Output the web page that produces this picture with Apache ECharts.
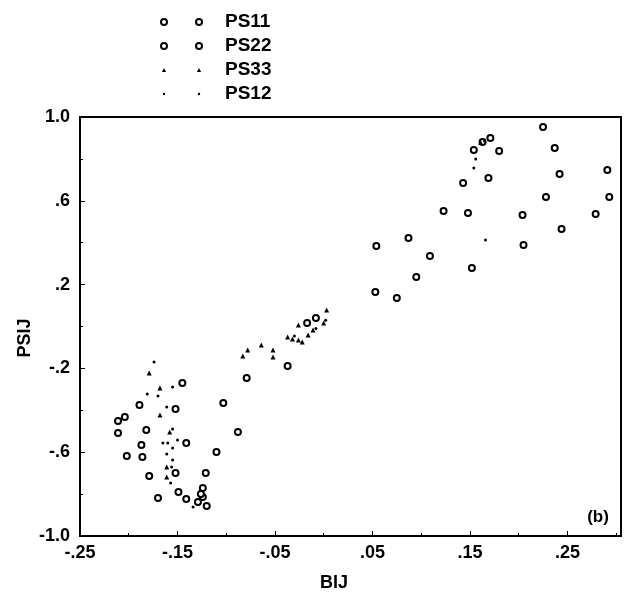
<!DOCTYPE html>
<html><head><meta charset="utf-8">
<script src="https://cdn.jsdelivr.net/npm/echarts@6/dist/echarts.min.js"></script>
<style>html,body{margin:0;padding:0;background:#fff}#c{width:632px;height:592px}</style>
</head><body><div id="c"></div>
<script>
const seriesNames = ['PS11', 'PS22', 'PS33', 'PS12'];
const ps11 = [[0.225,0.952],[0.237,0.852],[0.242,0.728],[0.291,0.747],[0.293,0.618],[0.228,0.618],[0.279,0.537],[0.204,0.532],[0.244,0.465],[0.205,0.389],[0.109,0.336],[0.152,0.279],[0.123,0.551],[0.148,0.542],[0.143,0.685],[0.169,0.709],[0.180,0.838],[0.171,0.900],[0.154,0.842],[0.163,0.881],[0.054,0.384],[0.087,0.422],[0.095,0.236],[0.053,0.165],[0.075,0.136]];
const ps22 = [[-0.017,0.017],[-0.008,0.041],[-0.037,-0.189],[-0.079,-0.246],[-0.103,-0.365],[-0.088,-0.504],[-0.110,-0.599],[-0.121,-0.699],[-0.145,-0.270],[-0.189,-0.375],[-0.152,-0.394],[-0.211,-0.451],[-0.204,-0.432],[-0.211,-0.508],[-0.182,-0.494],[-0.141,-0.556],[-0.187,-0.566],[-0.202,-0.618],[-0.186,-0.623],[-0.152,-0.699],[-0.179,-0.714],[-0.149,-0.790],[-0.124,-0.771],[-0.170,-0.819],[-0.141,-0.823],[-0.129,-0.838],[-0.124,-0.814],[-0.120,-0.857],[-0.126,-0.800]];
const ps33 = [[-0.083,-0.141],[-0.078,-0.112],[-0.064,-0.088],[-0.052,-0.112],[-0.052,-0.146],[-0.037,-0.050],[-0.032,-0.060],[-0.026,-0.064],[-0.022,-0.074],[-0.016,-0.041],[-0.026,0.007],[-0.011,-0.017],[0.000,0.017],[0.003,0.079],[-0.179,-0.222],[-0.168,-0.294],[-0.168,-0.422],[-0.158,-0.504],[-0.161,-0.671],[-0.161,-0.718],[0.161,0.878]];
const ps12 = [[-0.174,-0.169],[-0.155,-0.289],[-0.181,-0.322],[-0.170,-0.332],[-0.161,-0.384],[-0.155,-0.489],[-0.165,-0.556],[-0.160,-0.556],[-0.150,-0.542],[-0.155,-0.580],[-0.161,-0.609],[-0.155,-0.637],[-0.156,-0.671],[-0.157,-0.747],[-0.134,-0.862],[0.156,0.800],[0.154,0.757],[0.166,0.413],[-0.008,-0.010],[0.165,0.885],[-0.030,-0.045],[0.002,0.030]];
const xMin = -0.25, xMax = 0.305, xStep = 0.1;
const yMin = -1.0, yMax = 1.0, yStep = 0.4;
const xTitle = 'BIJ', yTitle = 'PSIJ', panelTag = '(b)';

function fmtX(v){ const r = Math.round(v*100)/100; const s = Math.abs(r).toFixed(2).replace(/^0/, ''); return (r < 0 ? '-' : '') + s; }
function fmtY(v){ const r = Math.round(v*10)/10; const s = Math.abs(r).toFixed(1).replace(/^0/, ''); return (r < 0 ? '-' : '') + s; }

const font = '"Liberation Sans", Arial, sans-serif';
const chart = echarts.init(document.getElementById('c'), null, {renderer: 'canvas'});
const symbols = {PS11: 'emptyCircle', PS22: 'emptyCircle', PS33: 'triangle', PS12: 'circle'};
const sizes = {PS11: 6, PS22: 6, PS33: 5, PS12: 3};
const dataMap = {PS11: ps11, PS22: ps22, PS33: ps33, PS12: ps12};
const dotIcon = 'path://M0,0M10,10M3,5a2,2 0 1,0 4,0a2,2 0 1,0 -4,0z';
const triIcon = 'path://M0,0M10,10M5,1.5L8.5,8.5L1.5,8.5z';
const legendData = seriesNames.map(n => n === 'PS12' ? {name: n, icon: dotIcon} : (n === 'PS33' ? {name: n, icon: triIcon} : {name: n}));

chart.setOption({
  animation: false,
  backgroundColor: '#fff',
  grid: {left: 80, right: 11, top: 117, bottom: 56, show: true, borderColor: '#000', borderWidth: 2, backgroundColor: 'transparent'},
  legend: [
    {orient: 'vertical', left: 155, top: 5, itemWidth: 6, itemHeight: 6, itemGap: 0, data: legendData, formatter: () => ' ', selectedMode: false,
     textStyle: {fontSize: 18, lineHeight: 24, fontFamily: font}},
    {orient: 'vertical', left: 190, top: 5, itemWidth: 6, itemHeight: 6, itemGap: 0, data: legendData, selectedMode: false,
     textStyle: {fontSize: 19, fontWeight: 'bold', lineHeight: 24, color: '#000', fontFamily: font, padding: [0, 0, 0, 18]}}
  ],
  xAxis: {
    type: 'value', min: xMin, max: xMax, interval: xStep,
    axisLine: {show: true, onZero: false, lineStyle: {color: '#000', width: 2}},
    axisTick: {show: true, inside: true, length: 5, lineStyle: {color: '#000', width: 1}},
    minorTick: {show: true, splitNumber: 2, length: 3, lineStyle: {color: '#000'}},
    splitLine: {show: false},
    axisLabel: {formatter: fmtX, color: '#000', fontSize: 18, fontWeight: 'bold', fontFamily: font, margin: 8, showMaxLabel: false}
  },
  yAxis: {
    type: 'value', min: yMin, max: yMax, interval: yStep,
    axisLine: {show: true, onZero: false, lineStyle: {color: '#000', width: 2}},
    axisTick: {show: true, inside: true, length: 5, lineStyle: {color: '#000', width: 1}},
    minorTick: {show: true, splitNumber: 2, length: 3, lineStyle: {color: '#000'}},
    splitLine: {show: false},
    axisLabel: {formatter: fmtY, color: '#000', fontSize: 18, fontWeight: 'bold', fontFamily: font, margin: 10}
  },
  graphic: [
    {type: 'text', x: 25, y: 338, rotation: Math.PI / 2, style: {text: yTitle, font: 'bold 18px ' + font, fill: '#000', textAlign: 'center', textVerticalAlign: 'middle'}},
    {type: 'text', x: 334, y: 583, style: {text: xTitle, font: 'bold 18px ' + font, fill: '#000', textAlign: 'center', textVerticalAlign: 'middle'}},
    {type: 'text', x: 598, y: 517, style: {text: panelTag, font: 'bold 17px ' + font, fill: '#000', textAlign: 'center', textVerticalAlign: 'middle'}}
  ],
  series: seriesNames.map(n => ({
    name: n, type: 'scatter', data: dataMap[n], symbol: symbols[n], symbolSize: sizes[n],
    itemStyle: {color: '#000', borderColor: '#000', borderWidth: symbols[n] === 'emptyCircle' ? 1.5 : 0, opacity: 1},
    emphasis: {disabled: true}
  }))
});
</script></body></html>
